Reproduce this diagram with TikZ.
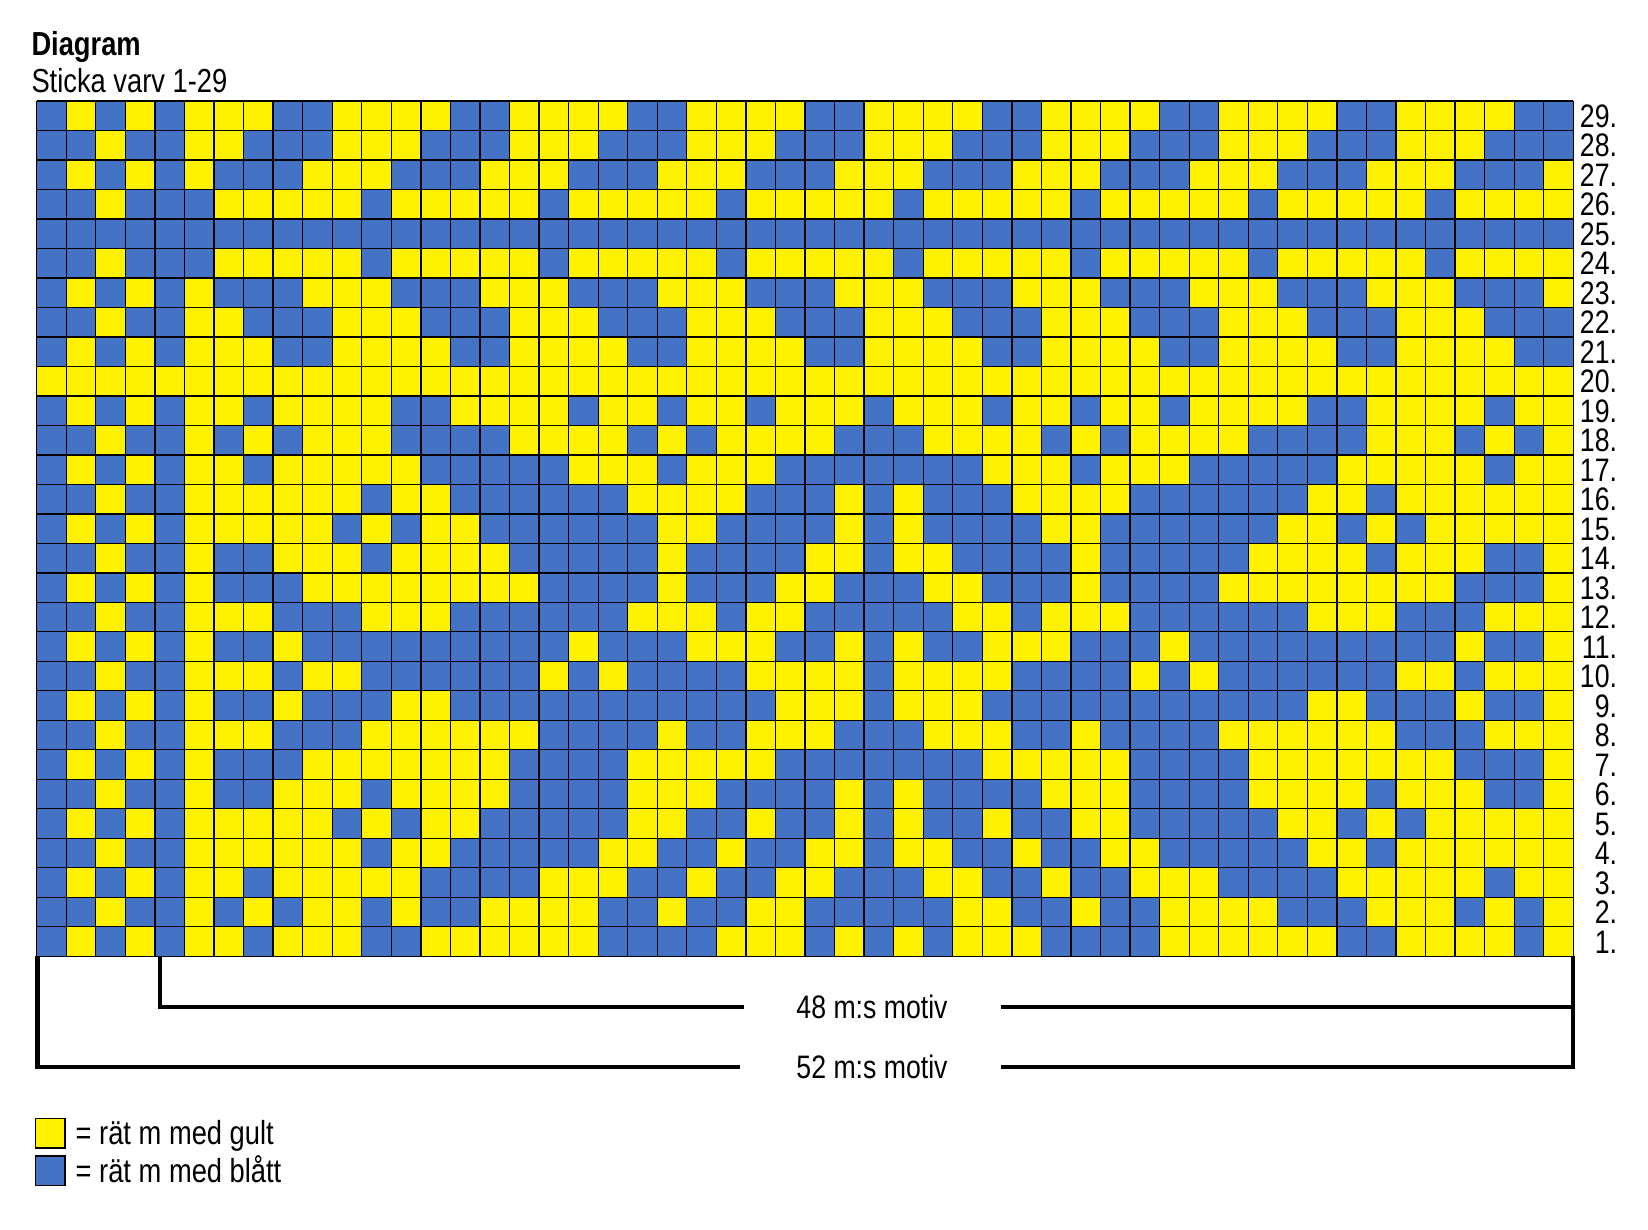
\documentclass[tikz,border=0pt]{standalone}
\usepackage{fontspec}
\setmainfont{Liberation Sans}[FakeStretch=0.82]
\definecolor{ychart}{RGB}{255,242,0}
\definecolor{bchart}{RGB}{68,114,196}
\newcount\cellc
\newcommand\chartrow[2]{\cellc=0 \def\chartr{#1}\expandafter\chartloop#2\relax}
\def\chartloop#1{\ifx#1\relax\else\advance\cellc by 1 \chartcell#1\expandafter\chartloop\fi}
\def\chartcell#1{\if#1Y\def\chartfill{ychart}\else\def\chartfill{bchart}\fi
  \pgfmathsetmacro\cx{36.7+(\the\cellc-1)*29.55}%
  \pgfmathsetmacro\cy{101+(29-\chartr)*29.49}%
  \fill[\chartfill] (\cx,\cy) rectangle ++(29.55,29.49);}
\begin{document}
\begin{tikzpicture}[x=1pt,y=-1pt,
  every node/.style={inner sep=0pt, outer sep=0pt, font=\fontsize{32.5}{39}\selectfont},
  bigtext/.style={font=\fontsize{33.3}{40}\selectfont},
  gridline/.style={line width=1.3pt, black},
  bracketline/.style={line width=4.6pt, black, line join=miter},
  rowlab/.style={anchor=base east},
  legbox/.style={draw, line width=1.5pt, minimum size=29.5pt, anchor=north west}]
\useasboundingbox (0,0) rectangle (1648,1229);
\fill[white] (0,0) rectangle (1648,1229);
% cells
\chartrow{29}{BYBYBYYYBBYYY YBBYYYYBBYYYY BBYYYYBBYYYYB BYYYYBBYYYYBB}
\chartrow{28}{BBYBBYYBBBYYY BBBYYYBBBYYYB BBYYYBBBYYYBB BYYYBBBYYYBBB}
\chartrow{27}{BYBYBYBBBYYYB BBYYYBBBYYYBB BYYYBBBYYYBBB YYYBBBYYYBBBY}
\chartrow{26}{BBYBBBYYYYYBY YYYYBYYYYYBYY YYYBYYYYYBYYY YYBYYYYYBYYYY}
\chartrow{25}{BBBBBBBBBBBBB BBBBBBBBBBBBB BBBBBBBBBBBBB BBBBBBBBBBBBB}
\chartrow{24}{BBYBBBYYYYYBY YYYYBYYYYYBYY YYYBYYYYYBYYY YYBYYYYYBYYYY}
\chartrow{23}{BYBYBYBBBYYYB BBYYYBBBYYYBB BYYYBBBYYYBBB YYYBBBYYYBBBY}
\chartrow{22}{BBYBBYYBBBYYY BBBYYYBBBYYYB BBYYYBBBYYYBB BYYYBBBYYYBBB}
\chartrow{21}{BYBYBYYYBBYYY YBBYYYYBBYYYY BBYYYYBBYYYYB BYYYYBBYYYYBB}
\chartrow{20}{YYYYYYYYYYYYY YYYYYYYYYYYYY YYYYYYYYYYYYY YYYYYYYYYYYYY}
\chartrow{19}{BYBYBYYBYYYYB BYYYYBYYBYYBY YYBYYYBYYBYYB YYYYBBYYYYBYY}
\chartrow{18}{BBYBBYBYBYYYB BBBYYYYBYBYYY YBBBYYYYBYBYY YYBBBBYYYBYBY}
\chartrow{17}{BYBYBYYBYYYYY BBBBBYYYBYYYB BBBBBBYYYBYYY BBBBBYYYYYBYY}
\chartrow{16}{BBYBBYYYYYYBY YBBBBBBYYYYBB BYBYBBBYYYYBB BBBBYYBYYYYYY}
\chartrow{15}{BYBYBYYYYYBYB YYBBBBBBYYBBB BYBYBBBBYYBBB BBBYYBYBYYYYY}
\chartrow{14}{BBYBBYBBYYYBY YYYBBBBBYBBBB YYBYYBBBBYBBB BBYYYYBYYYBBY}
\chartrow{13}{BYBYBYBBBYYYY YYYYBBBBYBBBY YBBBYYBBBYBBB BYYYYYYYYBBBY}
\chartrow{12}{BBYBBYYYBBBYY YBBBBBBYYYBYY BBBBBYYBYYYBB BBBBYYYBBBYYY}
\chartrow{11}{BYBYBYBBYBBBB BBBBBYBBBYYYB BYBYBBYYYBBBY BBBBBBBBBYBBY}
\chartrow{10}{BBYBBYYYBYYBB BBBBYBYBBBBYY YYBYYYYBBBBYB YBBBBBBYYBYYY}
\chartrow{9}{BYBYBYBBYBBBY YBBBBBBBBBBBY YYBYYYBBBBBBB BBBBYYBBBYBBY}
\chartrow{8}{BBYBBYYYBBBYY YYYYBBBBYBBYY YBBBYYYBBYBBB BYYYYYYBBBYYY}
\chartrow{7}{BYBYBYBBBYYYY YYYBBBBYYYYYB BBBBBBYYYYYBB BBYYYYYYYBBBY}
\chartrow{6}{BBYBBYBBYYYBY YYYBBBBYYYBBB BYBYBBBBYYYBB BBYYYYBYYYBBY}
\chartrow{5}{BYBYBYYYYYBYB YYBBBBBYYBBYB BYBYBBYBBYYBB BBBYYBYBYYYYY}
\chartrow{4}{BBYBBYYYYYYBY YBBBBBYYBBYBB YYBYYBBYBBYYB BBBBYYBYYYYYY}
\chartrow{3}{BYBYBYYBYYYYY BBBBYYYBBYBBY YBBBYYBBYBBYY YBBBBYYYYYBYY}
\chartrow{2}{BBYBBYBYBYYBY BBYYYYBBYBBYY BBBBBYYBBYBBY YYYBBBYYYBYBY}
\chartrow{1}{BYBYBYYBYYYBB YYYYYYBBBBYYY BYBYBYYYBBBBY YYYYYBBYYYYBY}
% grid lines
\foreach \i in {0,...,52} \draw[gridline] ({36.7+\i*29.55},101) -- ({36.7+\i*29.55},956.3);
\foreach \j in {0,...,29} \draw[gridline] (36.7,{101+\j*29.49}) -- (1573.3,{101+\j*29.49});
% row labels
\foreach \r in {1,...,29} \node[rowlab] (row\r) at (1617,{101+(29-\r+0.5)*29.49+11.6}) {\r.};
% title
\node[anchor=base west, font=\bfseries\fontsize{33.3}{40}\selectfont] (title) at (31.5,55.7) {Diagram};
\node[anchor=base west, bigtext] (subtitle) at (31.5,92) {Sticka varv 1-29};
% brackets
\coordinate (b48top) at (160,956.3);
\coordinate (b48corner) at (160,1007);
\coordinate (b48l) at (744,1007);
\coordinate (b48r) at (1000.5,1007);
\coordinate (b48end) at (1573,1007);
\draw[bracketline] (b48top) -- (b48corner) -- (b48l);
\draw[bracketline] (b48r) -- (b48end);
\node[anchor=base] (lab48) at (872,1018.6) {48 m:s motiv};
\coordinate (b52top) at (37.5,956.3);
\coordinate (b52corner) at (37.5,1067);
\coordinate (b52l) at (740,1067);
\coordinate (b52r) at (1000.5,1067);
\coordinate (b52rc) at (1573,1067);
\coordinate (b52rtop) at (1573,956.3);
\draw[bracketline] (b52top) -- (b52corner) -- (b52l);
\draw[bracketline] (b52r) -- (b52rc) -- (b52rtop);
\node[anchor=base] (lab52) at (872,1078.6) {52 m:s motiv};
% legend
\node[legbox, fill=ychart] (legy) at (35.7,1118.5) {};
\node[legbox, fill=bchart] (legb) at (35.7,1156) {};
\node[anchor=base west, bigtext] (legyt) at (75.7,1144.6) {= rät m med gult};
\node[anchor=base west, bigtext] (legbt) at (75.7,1182.6) {= rät m med blått};
\end{tikzpicture}
\end{document}
